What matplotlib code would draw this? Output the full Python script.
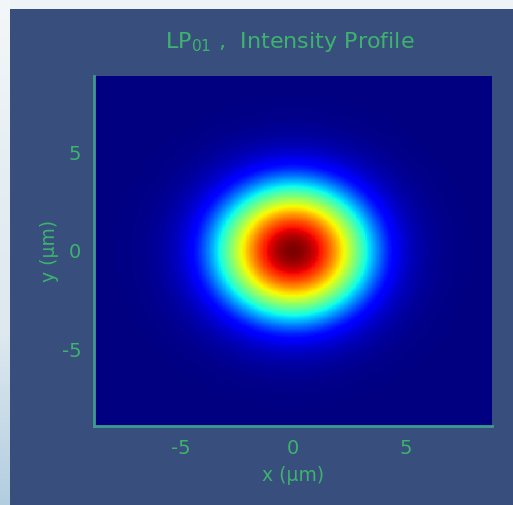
import numpy as np
import matplotlib
matplotlib.use("Agg")
import matplotlib.pyplot as plt
from matplotlib.colors import LinearSegmentedColormap

plt.rcParams["axes.unicode_minus"] = False

# ---- data / parameters ----
title_main = "Intensity Profile"
x_ticks = [-5, 0, 5]
y_ticks = [-5, 0, 5]
x_limits = [-8.85, 8.85]
y_limits = [-8.9, 8.9]
core_radius = 4.1      # um
u_param = 1.65         # LP01 core parameter
w_param = 1.75         # LP01 cladding parameter
grid_n = 301

# ---- Bessel functions via numerical integration (numpy only) ----
def j0(x):
    th = np.linspace(0, np.pi, 400)
    return np.trapezoid(np.cos(np.multiply.outer(x, np.sin(th))), th, axis=-1) / np.pi

def k0(x):
    t = np.linspace(0, 8, 800)
    return np.trapezoid(np.exp(-np.multiply.outer(x, np.cosh(t))), t, axis=-1)

xs = np.linspace(x_limits[0], x_limits[1], grid_n)
ys = np.linspace(y_limits[0], y_limits[1], grid_n)
X, Y = np.meshgrid(xs, ys)
R = np.hypot(X, Y)
r_core = np.minimum(R, core_radius)
r_clad = np.maximum(R, core_radius)
field_core = j0(u_param * r_core / core_radius) / j0(u_param)
field_clad = k0(w_param * r_clad / core_radius) / k0(w_param)
field = np.where(R <= core_radius, field_core, field_clad)
intensity = field ** 2
intensity /= intensity.max()

# ---- figure ----
W, H = 513, 505
fig = plt.figure(figsize=(W / 100, H / 100), dpi=100)
fig.patch.set_facecolor("#eef3f6")

# left light gradient strip
ax_bg = fig.add_axes([0, 0, 10 / W, 1])
grad = np.linspace(0, 1, 256)[:, None]
strip_cmap = LinearSegmentedColormap.from_list("strip", ["#b3cde0", "#dde8ef", "#e6eef3", "#f4f7f9"])
ax_bg.imshow(grad, aspect="auto", cmap=strip_cmap, origin="lower", extent=[0, 1, 0, 1])
ax_bg.axis("off")

panel_col = "#384e7c"
ax_panel = fig.add_axes([10 / W, 0, 1 - 10 / W, 1 - 9 / H])
ax_panel.set_facecolor(panel_col)
ax_panel.set_xticks([])
ax_panel.set_yticks([])
for s in ax_panel.spines.values():
    s.set_visible(False)

green = "#3cb46e"
spine_col = "#3f9a8e"

ax = fig.add_axes([94 / W, 1 - 426 / H, (492 - 94) / W, (426 - 76) / H])
ax.pcolormesh(xs, ys, intensity, cmap="jet", vmin=0, vmax=1, shading="auto", rasterized=True)
ax.set_xlim(x_limits)
ax.set_ylim(y_limits)
ax.set_xticks(x_ticks)
ax.set_yticks(y_ticks)
ax.tick_params(length=0, colors=green, labelsize=14, pad=9)
for lab in ax.get_xticklabels() + ax.get_yticklabels():
    lab.set_family("DejaVu Sans")
for s in ["top", "right"]:
    ax.spines[s].set_visible(False)
for s in ["left", "bottom"]:
    ax.spines[s].set_color(spine_col)
    ax.spines[s].set_linewidth(2)

font = dict(family="DejaVu Sans", color=green)
ax.set_xlabel("x (\u03bcm)", fontsize=13.5, labelpad=6, **font)
ax.set_ylabel("y (\u03bcm)", fontsize=13.5, labelpad=2, **font)
fig.text(290 / W, 1 - 42 / H, "LP$_{01}$ ,  " + title_main, ha="center", va="center",
         fontsize=16, **font)

fig.savefig("out.png", dpi=100, facecolor=fig.get_facecolor())
